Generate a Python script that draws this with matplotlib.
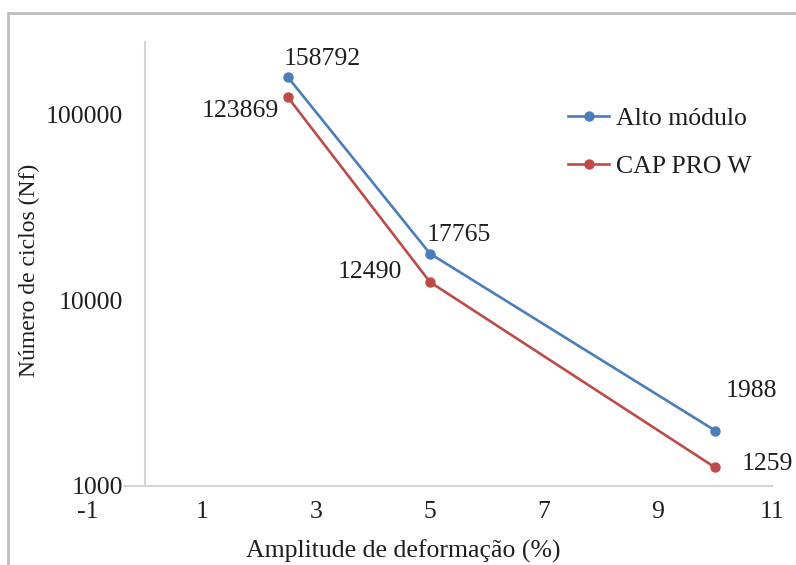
import matplotlib
matplotlib.use("Agg")
import matplotlib.pyplot as plt
from matplotlib.patches import Rectangle

# Fatigue data: strain amplitude (%) vs. number of cycles to failure
amplitude = [2.5, 5, 10]
alto_modulo = [158792, 17765, 1988]
cap_pro_w = [123869, 12490, 1259]

series_names = ["Alto módulo", "CAP PRO W"]
series_colors = ["#4A7EBB", "#BE4B48"]

x_ticks = [-1, 1, 3, 5, 7, 9, 11]
y_ticks = [1000, 10000, 100000]

# label offsets (points) for each value label, per series
alto_offsets = [(25, 12.5), (21, 13.5), (26, 28.5)]
cap_offsets = [(-34, -10.5), (-43, 7.5), (38, 2.5)]

plt.rcParams["font.family"] = ["Liberation Serif", "DejaVu Serif"]
FS = 18.5
TXT = "#1e1e1e"
GRID = "#D4D4D4"

fig = plt.figure(figsize=(7.96, 5.65), dpi=100)
ax = fig.add_axes([88 / 796, 1 - 486 / 565, (772 - 88) / 796, (486 - 42) / 565])

# outer chart border (only the left and top edges fall inside the image)
fig.patches.append(Rectangle((8 / 796, -0.05), 1.2, 1.05 - 13 / 565,
                             transform=fig.transFigure, fill=False,
                             edgecolor="#BDBDBD", linewidth=2.0))

ax.plot(amplitude, alto_modulo, color=series_colors[0], lw=1.9, marker="o",
        ms=6.5, label=series_names[0], zorder=3)
ax.plot(amplitude, cap_pro_w, color=series_colors[1], lw=1.9, marker="o",
        ms=6.5, label=series_names[1], zorder=3)

for xv, yv, off in zip(amplitude, alto_modulo, alto_offsets):
    ax.annotate(f"{yv}", (xv, yv), xytext=off, textcoords="offset points",
                ha="center", va="center", fontsize=FS, color=TXT)
for xv, yv, off in zip(amplitude, cap_pro_w, cap_offsets):
    ax.annotate(f"{yv}", (xv, yv), xytext=off, textcoords="offset points",
                ha="center", va="center", fontsize=FS, color=TXT)

ax.set_yscale("log")
ax.set_xlim(-1, 11)
ax.set_ylim(1000, 2.44e5)

ax.set_xticks(x_ticks)
ax.set_xticklabels([str(v) for v in x_ticks])
ax.set_yticks(y_ticks)
ax.set_yticklabels([str(v) for v in y_ticks])
ax.yaxis.set_minor_locator(matplotlib.ticker.NullLocator())
ax.tick_params(axis="both", length=0, labelsize=FS, colors=TXT)
ax.tick_params(axis="x", pad=11)
ax.tick_params(axis="y", pad=16)

for side in ("top", "right"):
    ax.spines[side].set_visible(False)
ax.spines["left"].set_position(("data", 0))
ax.spines["left"].set_color(GRID)
ax.spines["left"].set_linewidth(1.5)
ax.spines["bottom"].set_color(GRID)
ax.spines["bottom"].set_linewidth(1.5)
ax.spines["bottom"].set_bounds(-0.36, 11)

fig.text(403 / 796, 1 - 551 / 565, "Amplitude de deformação (%)",
         ha="center", va="center", fontsize=FS, color=TXT)
fig.text(29 / 796, 1 - 270 / 565, "Número de ciclos (Nf)", rotation=90,
         ha="center", va="center", fontsize=17, color=TXT)

leg = ax.legend(loc="upper left", bbox_to_anchor=(568 / 796, 1 - 107 / 565),
                bbox_transform=fig.transFigure, frameon=False, fontsize=FS,
                handlelength=1.6, handletextpad=0.25, labelspacing=0.98,
                borderpad=0, borderaxespad=0, labelcolor=TXT)

fig.savefig("out.png", dpi=100)
